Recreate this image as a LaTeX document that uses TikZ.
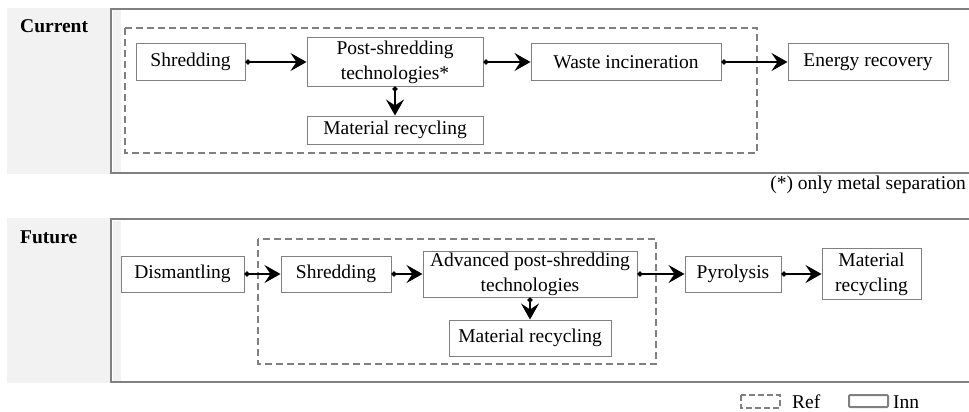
\documentclass[tikz,border=0pt]{standalone}
\usepackage{fontspec}
\setmainfont{Liberation Serif}
\usetikzlibrary{arrows.meta}
\definecolor{panelgray}{HTML}{F2F2F2}
\definecolor{linegray}{HTML}{808080}
\begin{document}
\begin{tikzpicture}[x=1pt,y=-1pt,
    procbox/.style={draw=linegray,line width=1pt,fill=white,inner sep=0pt,align=center,
        font=\fontsize{19.5}{25}\selectfont},
    flow/.style={line width=1.5pt,{Circle[length=5pt]}-{Stealth[length=16pt,width=18pt,inset=6pt]}},
    refbox/.style={draw=linegray,line width=2pt,dash pattern=on 7pt off 4pt},
    panel/.style={draw=linegray,line width=2.5pt,fill=white},
    txt/.style={font=\fontsize{19.5}{25}\selectfont,inner sep=0pt}]
    \clip (0,0) rectangle (969,412);
    % current
    \fill[panelgray] (7,8) rectangle (969,174);
    \draw[panel] (111,9) rectangle (990,173);
    \fill[panelgray] (112.5,10.5) rectangle (121,171.5);
    \node[txt,font=\fontsize{19.5}{25}\selectfont\bfseries,anchor=base west] (curlabel) at (20,33) {Current};
    \draw[refbox] (125,28) rectangle (757,153);
    \node[procbox,minimum width=109pt,minimum height=36pt] (shred) at (190.5,62) {Shredding};
    \node[procbox,minimum width=176pt,minimum height=48pt] (postshred) at (395,62) {Post-shredding\\technologies*};
    \node[procbox,minimum width=176pt,minimum height=28pt] (matrec) at (395,130) {Material recycling};
    \node[procbox,minimum width=190pt,minimum height=36pt] (incin) at (626,62) {Waste incineration};
    \node[procbox,minimum width=160pt,minimum height=36pt] (energy) at (868,62) {Energy recovery};
    \draw[flow] (shred) -- (postshred);
    \draw[flow] (postshred) -- (incin);
    \draw[flow] (incin) -- (energy);
    \draw[flow] (postshred) -- (matrec);
    \node[txt,anchor=base east] (note) at (966,189) {(*) only metal separation};
    % future
    \fill[panelgray] (7,218) rectangle (969,383);
    \draw[panel] (111,219) rectangle (990,382);
    \fill[panelgray] (112.5,220.5) rectangle (121,380.5);
    \node[txt,font=\fontsize{19.5}{25}\selectfont\bfseries,anchor=base west] (futlabel) at (20,243) {Future};
    \draw[refbox] (258,239) rectangle (656,364);
    \node[procbox,minimum width=123pt,minimum height=36pt] (dism) at (182.5,274) {Dismantling};
    \node[procbox,minimum width=110pt,minimum height=36pt] (shredf) at (336,274) {Shredding};
    \node[procbox,minimum width=214pt,minimum height=46pt] (advpost) at (530,274) {Advanced post-shredding\\technologies};
    \node[procbox,minimum width=162pt,minimum height=36pt] (matrecf) at (530,338) {Material recycling};
    \node[procbox,minimum width=96pt,minimum height=36pt] (pyro) at (733,274) {Pyrolysis};
    \node[procbox,minimum width=99pt,minimum height=51pt] (matrecr) at (871.5,274) {Material\\recycling};
    \draw[flow] (dism) -- (shredf);
    \draw[flow] (shredf) -- (advpost);
    \draw[flow] (advpost) -- (pyro);
    \draw[flow] (pyro) -- (matrecr);
    \draw[flow] (advpost) -- (matrecf);
    % legend
    \draw[refbox,dash pattern=on 6pt off 3pt] (741,395) rectangle (780,408);
    \node[txt,anchor=base west] (reflabel) at (792,408) {Ref};
    \draw[draw=linegray,line width=2pt,rounded corners=1pt] (849,395) rectangle (888,407);
    \node[txt,anchor=base west] (innlabel) at (893,408) {Inn};
\end{tikzpicture}
\end{document}
